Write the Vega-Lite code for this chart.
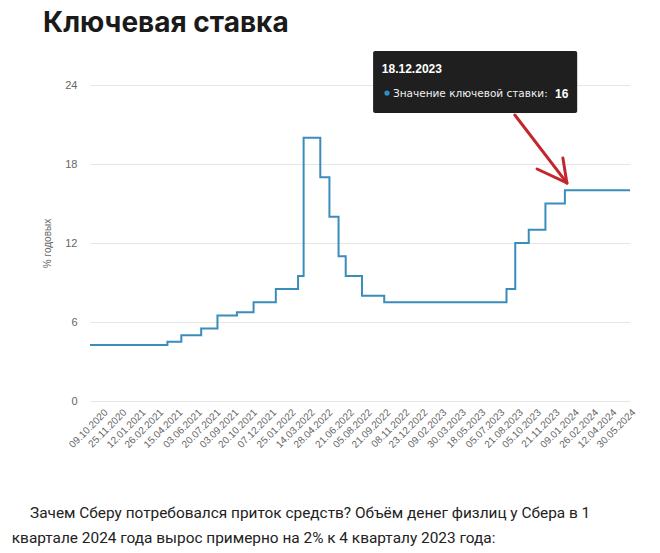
{
  "$schema": "https://vega.github.io/schema/vega-lite/v6.json",
  "width": 540,
  "height": 316,
  "autosize": {"type": "none"},
  "padding": {"left": 90, "top": 85, "right": 30, "bottom": 152},
  "background": "white",
  "title": {"text": "Ключевая ставка", "anchor": "start", "frame": "group", "baseline": "alphabetic", "dx": -47, "dy": 27, "offset": 18, "fontSize": 28, "font": "Inter", "fontWeight": "bold", "color": "#1a1a1a"},
  "config": {"view": {"stroke": null}},
  "datasets": {
    "rates": [
      {"date": "2020-09-08", "rate": 4.25},
      {"date": "2021-03-22", "rate": 4.5},
      {"date": "2021-04-26", "rate": 5},
      {"date": "2021-06-15", "rate": 5.5},
      {"date": "2021-07-26", "rate": 6.5},
      {"date": "2021-09-13", "rate": 6.75},
      {"date": "2021-10-25", "rate": 7.5},
      {"date": "2021-12-20", "rate": 8.5},
      {"date": "2022-02-14", "rate": 9.5},
      {"date": "2022-02-28", "rate": 20},
      {"date": "2022-04-11", "rate": 17},
      {"date": "2022-05-04", "rate": 14},
      {"date": "2022-05-27", "rate": 11},
      {"date": "2022-06-14", "rate": 9.5},
      {"date": "2022-07-25", "rate": 8},
      {"date": "2022-09-19", "rate": 7.5},
      {"date": "2023-07-24", "rate": 8.5},
      {"date": "2023-08-15", "rate": 12},
      {"date": "2023-09-18", "rate": 13},
      {"date": "2023-10-30", "rate": 15},
      {"date": "2023-12-18", "rate": 16},
      {"date": "2024-05-30", "rate": 16}
    ],
    "box": [{"date": "2022-08-22", "date2": "2024-01-18", "rate": 26.58, "rate2": 21.87}],
    "tipTitle": [{"date": "2022-09-13", "rate": 25.22, "text": "18.12.2023"}],
    "tipDot": [{"date": "2022-09-26", "rate": 23.39}],
    "tipLabel": [{"date": "2022-10-11", "rate": 23.32, "text": "Значение ключевой ставки:"}],
    "tipValue": [{"date": "2023-11-23", "rate": 23.32, "text": "16"}],
    "arrow": [
      {"date": "2023-08-14", "rate": 21.72, "date2": "2023-12-23", "rate2": 16.56},
      {"date": "2023-10-09", "rate": 17.62, "date2": "2023-12-23", "rate2": 16.56},
      {"date": "2023-12-13", "rate": 18.46, "date2": "2023-12-23", "rate2": 16.56}
    ],
    "para": [
      {"date": "2020-04-10", "rate": -8.51, "text": "Зачем Сберу потребовался приток средств? Объём денег физлиц у Сбера в 1"},
      {"date": "2020-02-24", "rate": -10.4, "text": "квартале 2024 года вырос примерно на 2% к 4 кварталу 2023 года:"}
    ]
  },
  "encoding": {
    "x": {
      "field": "date", "type": "temporal",
      "scale": {"type": "utc", "domain": [{"year": 2020, "month": 9, "date": 8, "utc": true}, {"year": 2024, "month": 5, "date": 30, "utc": true}]},
      "axis": {
        "title": null,
        "values": [
          {"year": 2020, "month": 10, "date": 9, "utc": true},
          {"year": 2020, "month": 11, "date": 25, "utc": true},
          {"year": 2021, "month": 1, "date": 12, "utc": true},
          {"year": 2021, "month": 2, "date": 26, "utc": true},
          {"year": 2021, "month": 4, "date": 15, "utc": true},
          {"year": 2021, "month": 6, "date": 3, "utc": true},
          {"year": 2021, "month": 7, "date": 20, "utc": true},
          {"year": 2021, "month": 9, "date": 3, "utc": true},
          {"year": 2021, "month": 10, "date": 20, "utc": true},
          {"year": 2021, "month": 12, "date": 7, "utc": true},
          {"year": 2022, "month": 1, "date": 25, "utc": true},
          {"year": 2022, "month": 3, "date": 14, "utc": true},
          {"year": 2022, "month": 4, "date": 28, "utc": true},
          {"year": 2022, "month": 6, "date": 21, "utc": true},
          {"year": 2022, "month": 8, "date": 5, "utc": true},
          {"year": 2022, "month": 9, "date": 21, "utc": true},
          {"year": 2022, "month": 11, "date": 8, "utc": true},
          {"year": 2022, "month": 12, "date": 23, "utc": true},
          {"year": 2023, "month": 2, "date": 9, "utc": true},
          {"year": 2023, "month": 3, "date": 30, "utc": true},
          {"year": 2023, "month": 5, "date": 18, "utc": true},
          {"year": 2023, "month": 7, "date": 5, "utc": true},
          {"year": 2023, "month": 8, "date": 21, "utc": true},
          {"year": 2023, "month": 10, "date": 5, "utc": true},
          {"year": 2023, "month": 11, "date": 21, "utc": true},
          {"year": 2024, "month": 1, "date": 9, "utc": true},
          {"year": 2024, "month": 2, "date": 26, "utc": true},
          {"year": 2024, "month": 4, "date": 12, "utc": true},
          {"year": 2024, "month": 5, "date": 30, "utc": true}
        ],
        "labelExpr": "utcFormat(datum.value, '%d.%m.%Y')",
        "labelAngle": -45, "labelFontSize": 10, "labelColor": "#666", "labelFont": "Liberation Sans",
        "ticks": false, "grid": false, "domain": false, "labelPadding": 6,
        "labelOverlap": false, "labelBound": false, "labelFlush": false
      }
    },
    "y": {
      "field": "rate", "type": "quantitative",
      "scale": {"domain": [0, 24], "nice": false, "zero": false},
      "axis": {
        "title": "% годовых", "values": [0, 6, 12, 18, 24],
        "domain": false, "ticks": false, "gridColor": "#e6e6e6",
        "labelColor": "#666", "labelFontSize": 11, "labelFont": "Liberation Sans", "labelPadding": 13,
        "titleFontSize": 10, "titleFont": "Liberation Sans", "titleFontWeight": "normal", "titleColor": "#666", "titlePadding": 12
      }
    }
  },
  "layer": [
    {
      "data": {"name": "rates"},
      "mark": {"type": "line", "interpolate": "step-after", "color": "#3a8dbb", "strokeWidth": 2}
    },
    {
      "data": {"name": "box"},
      "mark": {"type": "rect", "fill": "#1f1f1f", "cornerRadius": 2},
      "encoding": {
        "x2": {"field": "date2"},
        "y2": {"field": "rate2"}
      }
    },
    {
      "data": {"name": "tipTitle"},
      "mark": {"type": "text", "align": "left", "baseline": "middle", "color": "#ffffff", "fontSize": 12, "fontWeight": "bold", "font": "Liberation Sans"},
      "encoding": {"text": {"field": "text"}}
    },
    {
      "data": {"name": "tipDot"},
      "mark": {"type": "circle", "color": "#2f8fc4", "size": 28, "opacity": 1}
    },
    {
      "data": {"name": "tipLabel"},
      "mark": {"type": "text", "align": "left", "baseline": "middle", "color": "#f0f0f0", "fontSize": 10.5, "font": "DejaVu Sans"},
      "encoding": {"text": {"field": "text"}}
    },
    {
      "data": {"name": "tipValue"},
      "mark": {"type": "text", "align": "left", "baseline": "middle", "color": "#ffffff", "fontSize": 12, "fontWeight": "bold", "font": "Liberation Sans"},
      "encoding": {"text": {"field": "text"}}
    },
    {
      "data": {"name": "arrow"},
      "mark": {"type": "rule", "color": "#c4262e", "strokeWidth": 3, "strokeCap": "round"},
      "encoding": {
        "x2": {"field": "date2"},
        "y2": {"field": "rate2"}
      }
    },
    {
      "data": {"name": "para"},
      "mark": {"type": "text", "align": "left", "baseline": "middle", "color": "#222222", "fontSize": 15.4, "font": "Roboto"},
      "encoding": {"text": {"field": "text"}}
    }
  ]
}
